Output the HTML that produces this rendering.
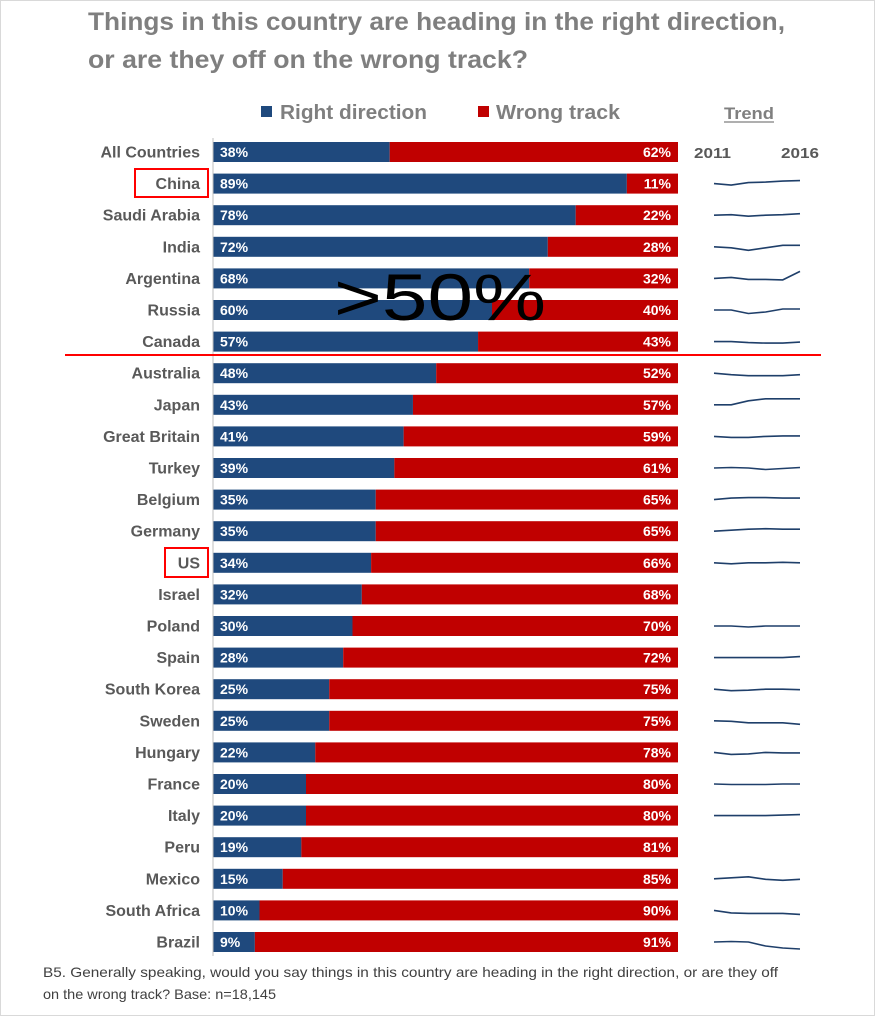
<!DOCTYPE html>
<html><head><meta charset="utf-8"><style>
html,body{margin:0;padding:0;background:#fff}
svg{display:block;font-family:"Liberation Sans",sans-serif}
</style></head><body>
<svg id="c" width="875" height="1016" viewBox="0 0 875 1016">
<rect x="0.5" y="0.5" width="874" height="1015" fill="#fff" stroke="#d9d9d9"/>
<text x="88" y="30" font-size="25" font-weight="bold" fill="#7f7f7f" textLength="697" lengthAdjust="spacingAndGlyphs">Things in this country are heading in the right direction,</text>
<text x="88" y="68" font-size="25" font-weight="bold" fill="#7f7f7f" textLength="440" lengthAdjust="spacingAndGlyphs">or are they off on the wrong track?</text>
<rect x="261" y="106" width="11" height="11" fill="#1f497d"/>
<text x="280" y="119" font-size="20" font-weight="bold" fill="#7f7f7f" textLength="147" lengthAdjust="spacingAndGlyphs">Right direction</text>
<rect x="478" y="106" width="11" height="11" fill="#c00000"/>
<text x="496" y="119" font-size="20" font-weight="bold" fill="#7f7f7f" textLength="124" lengthAdjust="spacingAndGlyphs">Wrong track</text>
<text x="724" y="119" font-size="17" font-weight="bold" fill="#7f7f7f" textLength="50" lengthAdjust="spacingAndGlyphs">Trend</text>
<line x1="724" y1="122" x2="774" y2="122" stroke="#7f7f7f" stroke-width="1.2"/>
<text x="694" y="158" font-size="15" font-weight="bold" fill="#595959" textLength="37" lengthAdjust="spacingAndGlyphs">2011</text>
<text x="781" y="158" font-size="15" font-weight="bold" fill="#595959" textLength="38" lengthAdjust="spacingAndGlyphs">2016</text>
<g id="bars"></g>
<line x1="213" y1="138" x2="213" y2="956" stroke="#bfbfbf" stroke-width="1"/>
<text x="440" y="320" font-size="66" fill="#000" text-anchor="middle" textLength="212" lengthAdjust="spacingAndGlyphs">&gt;50%</text>
<line x1="65" y1="355" x2="821" y2="355" stroke="#ff0000" stroke-width="2"/>
<rect x="135" y="169" width="73" height="28" fill="none" stroke="#ff0000" stroke-width="2"/>
<rect x="165" y="548" width="43" height="29" fill="none" stroke="#ff0000" stroke-width="2"/>
<text x="43" y="977" font-size="14" fill="#404040" textLength="735" lengthAdjust="spacingAndGlyphs">B5. Generally speaking, would you say things in this country are heading in the right direction, or are they off</text>
<text x="43" y="999" font-size="14" fill="#404040" textLength="233" lengthAdjust="spacingAndGlyphs">on the wrong track? Base: n=18,145</text>
</svg>
<script>
const categories=["All Countries","China","Saudi Arabia","India","Argentina","Russia","Canada","Australia","Japan","Great Britain","Turkey","Belgium","Germany","US","Israel","Poland","Spain","South Korea","Sweden","Hungary","France","Italy","Peru","Mexico","South Africa","Brazil"];
const rightDirection=[38,89,78,72,68,60,57,48,43,41,39,35,35,34,32,30,28,25,25,22,20,20,19,15,10,9];
const wrongTrack=[62,11,22,28,32,40,43,52,57,59,61,65,65,66,68,70,72,75,75,78,80,80,81,85,90,91];
const trendValues=[null,[0,-1.5,1,1.5,2.5,3],[0,0.5,-1,0,0.5,1.5],[0,-1,-3.5,-1,1.5,1.5],[0,1,-1,-1,-1.5,7],[0,0,-3.5,-2,1,1],[0,0,-1,-1.5,-1.5,-0.5],[0,-1.5,-2.5,-2.5,-2.5,-1.5],[0,0,4,6,6,6],[0,-1,-1,0,0.5,0.5],[0,0.5,0,-1.5,-0.5,0.5],[0,1.5,2,2,1.5,1.5],[0,1,2,2.5,2,2],[0,-1,0,0,0.5,0],null,[0,0,-1,0,0,0],[0,0,0,0,0,1],[0,-1.5,-1,0,0,-0.5],[0,-0.5,-2,-2,-2,-3.5],[0,-2,-1.5,0,-0.5,-0.5],[0,-0.5,-0.5,-0.5,0,0],[0,0,0,0,0.5,1],null,[0,1,2,-0.5,-1.5,-0.5],[0,-2.5,-3,-3,-3,-4],[0,0.5,0,-4,-6,-7]];
const NS="http://www.w3.org/2000/svg";
const g=document.getElementById("bars");
const x0=213,W=465,rowTop=152,pitch=31.6,bh=20;
const xs=v=>x0+v/100*W;
const ys=i=>rowTop+i*pitch;
function mk(t,a){const e=document.createElementNS(NS,t);for(const k in a)e.setAttribute(k,a[k]);g.appendChild(e);return e;}
categories.forEach((c,i)=>{
  const cy=ys(i);
  const lab=mk("text",{x:200,y:cy+5.5,"font-size":16,"font-weight":"bold",fill:"#595959","text-anchor":"end"});
  lab.textContent=c;
  
  
  const rb=mk("rect",{x:x0,y:cy-bh/2,width:xs(rightDirection[i])-x0,height:bh,fill:"#1f497d"});
  
  
  const wb=mk("rect",{x:xs(rightDirection[i]),y:cy-bh/2,width:xs(rightDirection[i]+wrongTrack[i])-xs(rightDirection[i]),height:bh,fill:"#c00000"});
  
  
  const rt=mk("text",{x:x0+7,y:cy+5,"font-size":14,"font-weight":"bold",fill:"#fff"});
  rt.textContent=rightDirection[i]+"%";
  
  
  const wt=mk("text",{x:xs(rightDirection[i]+wrongTrack[i])-7,y:cy+5,"font-size":14,"font-weight":"bold",fill:"#fff","text-anchor":"end"});
  wt.textContent=wrongTrack[i]+"%";
  
  
  const tv=trendValues[i];
  if(tv){
    const pts=tv.map((v,j)=>(714+j*17.2).toFixed(1)+","+(cy-v).toFixed(1)).join(" ");
    const pl=mk("polyline",{points:pts,fill:"none",stroke:"#1f3f6a","stroke-width":1.6,"stroke-linejoin":"round"});
    
    
  }
});
</script>
</body></html>
